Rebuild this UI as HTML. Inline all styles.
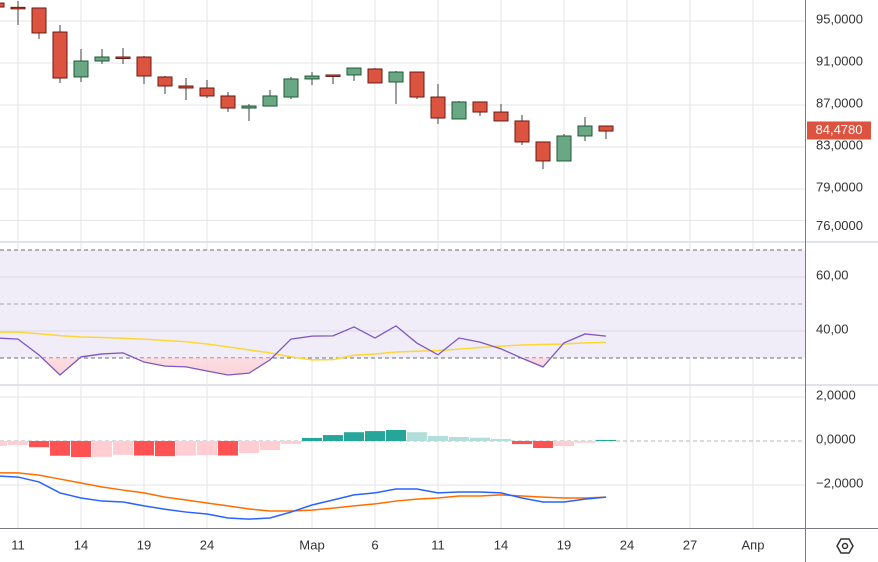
<!DOCTYPE html>
<html><head><meta charset="utf-8"><style>
html,body{margin:0;padding:0;background:#fff;}
svg{display:block;font-family:"Liberation Sans",sans-serif;}
</style></head><body>
<svg id="chart" width="878" height="562" viewBox="0 0 878 562">
<g id="grid"></g>
<rect x="0" y="250" width="805" height="108" fill="#f0ecf8"/>
<g id="rsigrid"></g>
<g id="candles"></g>
<g id="rsi"></g>
<g id="macd"></g>
<g id="axes"></g>
</svg>
<script>
const NS="http://www.w3.org/2000/svg";
// data (index -1 .. 28)
const openP =[96.71,96.3,96.24,93.95,89.67,91.19,91.57,91.57,89.67,88.81,88.62,87.86,86.71,86.90,87.76,89.48,89.86,89.86,90.43,89.19,90.14,87.76,85.67,87.29,86.33,85.48,83.48,81.67,84.05,85.0];
const highP =[96.9,96.9,96.24,94.62,92.33,92.33,92.43,91.67,89.76,89.57,89.38,88.24,87.10,88.43,89.67,90.14,89.86,90.52,90.52,90.24,90.14,89.0,87.38,87.29,87.10,86.05,83.48,84.24,85.86,85.0];
const lowP  =[96.2,94.62,93.29,89.10,89.19,90.90,90.90,89.0,88.05,87.48,87.67,86.33,85.48,86.90,87.57,88.90,89.0,89.29,89.10,87.10,87.57,85.19,85.67,85.95,85.48,83.19,80.90,81.67,83.57,83.76];
const closeP=[96.33,96.2,93.86,89.57,91.19,91.57,91.50,89.76,88.81,88.62,87.86,86.71,86.90,87.86,89.48,89.76,89.80,90.52,89.10,90.14,87.76,85.76,87.29,86.33,85.48,83.48,81.67,84.05,85.0,84.52];
const rsiVals=[37.4,37.0,31.1,23.7,30.4,31.5,31.9,28.5,27.0,26.7,25.2,23.7,24.4,29.3,37.0,38.1,38.2,41.5,37.4,41.9,35.5,31.2,37.4,35.9,33.4,29.9,26.7,35.6,38.9,38.1];
const rsiMA=[39.6,39.6,39.0,38.3,37.8,37.6,37.3,37.0,36.5,36.0,35.2,34.1,33.0,31.9,30.4,29.3,29.4,31.0,31.5,32.2,32.5,32.8,33.3,33.9,34.4,34.8,35.0,35.2,35.6,35.8];
const histVals=[-0.22,-0.18,-0.28,-0.67,-0.73,-0.72,-0.63,-0.66,-0.69,-0.66,-0.64,-0.66,-0.55,-0.41,-0.13,0.14,0.27,0.40,0.45,0.50,0.40,0.23,0.18,0.15,0.09,-0.14,-0.32,-0.23,-0.08,0.05];
const macdVals=[-1.59,-1.64,-1.86,-2.36,-2.59,-2.73,-2.77,-2.95,-3.1,-3.23,-3.32,-3.5,-3.55,-3.5,-3.23,-2.91,-2.68,-2.45,-2.36,-2.18,-2.18,-2.36,-2.32,-2.32,-2.36,-2.59,-2.77,-2.77,-2.64,-2.55];
const signalVals=[-1.45,-1.45,-1.55,-1.73,-1.91,-2.09,-2.23,-2.36,-2.55,-2.68,-2.82,-2.95,-3.09,-3.18,-3.18,-3.14,-3.05,-2.95,-2.86,-2.73,-2.64,-2.59,-2.5,-2.5,-2.45,-2.5,-2.55,-2.59,-2.59,-2.55];
const priceTicks=[95,91,87,83,79,76];
const priceTickLabels=["95,0000","91,0000","87,0000","83,0000","79,0000","76,0000"];
const rsiTicks=[60,40];
const rsiTickLabels=["60,00","40,00"];
const macdTicks=[2,0,-2];
const macdTickLabels=["2,0000","0,0000","\u22122,0000"];
const timeIdx=[1,4,7,10,15,18,21,24,27,30,33,36];
const timeLabels=["11","14","19","24","Мар","6","11","14","19","24","27","Апр"];
const lastPrice=84.478, lastPriceLabel="84,4780";

const xS=i=>18+21*(i-1); // array index 0 => candle -1
const yP=p=>21+(95-p)*10.5;
const yR=v=>250+(70-v)*2.7;
const yM=v=>441-v*22;
function el(t,a,p){const e=document.createElementNS(NS,t);for(const k in a)e.setAttribute(k,a[k]);(p||document.getElementById('chart')).appendChild(e);return e;}
const G=id=>document.getElementById(id);

// grid
const grid=G('grid');
timeIdx.forEach(ti=>{const l=el('line',{x1:xS(ti),x2:xS(ti),y1:0,y2:528,stroke:'#e6e6ea','stroke-width':1},grid);

});
priceTicks.forEach(p=>{const l=el('line',{x1:0,x2:805,y1:yP(p),y2:yP(p),stroke:'#e6e6ea'},grid);

});
macdTicks.forEach(v=>{if(v===0)return;const l=el('line',{x1:0,x2:805,y1:yM(v),y2:yM(v),stroke:'#e6e6ea'},grid);

});
const rg=G('rsigrid');
rsiTicks.forEach(v=>{const l=el('line',{x1:0,x2:805,y1:yR(v),y2:yR(v),stroke:'#dcd8e6'},rg);

});
[70,50,30].forEach(v=>{const l=el('line',{x1:0,x2:805,y1:yR(v),y2:yR(v),stroke:v===50?'#a9a9b0':'#6b6e78','stroke-dasharray':'4 3'},rg);

});

// candles
const cg=G('candles');
openP.forEach((o,i)=>{const c=closeP[i],x=xS(i),up=c>=o;
 const w=el('line',{x1:x,x2:x,y1:yP(highP[i]),y2:yP(lowP[i]),stroke:'#6b6b6b','stroke-width':1.3},cg);
 
 
 const t=yP(Math.max(o,c)),b=yP(Math.min(o,c));
 const r=el('rect',{x:x-7,y:t,width:14,height:Math.max(1.5,b-t),fill:up?'#6aa784':'#dc5340',stroke:up?'#1e5a36':'#6b1a12','stroke-width':1},cg);
 
 
});

// RSI
const rp=G('rsi');
const defs=el('defs',{},rp);
const cp=el('clipPath',{id:'below30'},defs);el('rect',{x:0,y:yR(30),width:805,height:40},cp);
const grd2=el('linearGradient',{id:'pinkg2',x1:0,y1:1,x2:0,y2:0},defs);
el('stop',{offset:'0','stop-color':'#f8c0ca'},grd2);el('stop',{offset:'1','stop-color':'#fff0f2'},grd2);
let rpts=rsiVals.map((v,i)=>xS(i)+','+yR(v)).join(' ');
const fill=el('polygon',{points:xS(0)+','+yR(30)+' '+rpts+' '+xS(rsiVals.length-1)+','+yR(30),fill:'url(#pinkg2)','clip-path':'url(#below30)',opacity:0.7},rp);


const ma=el('polyline',{points:rsiMA.map((v,i)=>xS(i)+','+yR(v)).join(' '),fill:'none',stroke:'#fdd835','stroke-width':1.5},rp);


const rl=el('polyline',{points:rpts,fill:'none',stroke:'#7e57c2','stroke-width':1.3},rp);



// MACD
const mp=G('macd');
const z=el('line',{x1:0,x2:805,y1:yM(0),y2:yM(0),stroke:'#b2b5be','stroke-dasharray':'4 3'},mp);


histVals.forEach((v,i)=>{const prev=i>0?histVals[i-1]:v;let col;
 if(v>=0)col=v>=prev?'#26a69a':'#b2dfdb';else col=v<prev?'#ff5252':'#ffcdd2';
 const y0=yM(0),y1=yM(v);
 const b=el('rect',{x:xS(i)-10,y:Math.min(y0,y1),width:20,height:Math.abs(y1-y0),fill:col},mp);
 
 
});
const sl=el('polyline',{points:signalVals.map((v,i)=>xS(i)+','+yM(v)).join(' '),fill:'none',stroke:'#ff6d00','stroke-width':1.5},mp);


const ml=el('polyline',{points:macdVals.map((v,i)=>xS(i)+','+yM(v)).join(' '),fill:'none',stroke:'#2962ff','stroke-width':1.5},mp);



// axes
const ax=G('axes');
el('rect',{x:806,y:0,width:72,height:562,fill:'#fff'},ax);
el('rect',{x:0,y:529,width:806,height:33,fill:'#fff'},ax);
const s1=el('rect',{x:0,y:241,width:878,height:2,fill:'#e0e3eb'},ax);


const s2=el('rect',{x:0,y:384,width:878,height:2,fill:'#e0e3eb'},ax);


el('line',{x1:805.5,x2:805.5,y1:0,y2:562,stroke:'#787b86'},ax);
el('line',{x1:0,x2:878,y1:528.5,y2:528.5,stroke:'#787b86'},ax);
function txt(s,x,y,name,anchor){const t=el('text',{x:x,y:y,'font-size':13,fill:'#333','text-anchor':anchor||'start','dominant-baseline':'middle'},ax);t.textContent=s;
 
 return t;}
priceTicks.forEach((p,i)=>txt(priceTickLabels[i],816,yP(p)+(p===76?6:-1),'price-tick-label'));
rsiTicks.forEach((v,i)=>txt(rsiTickLabels[i],816,yR(v)-1,'rsi-tick-label'));
macdTicks.forEach((v,i)=>txt(macdTickLabels[i],816,yM(v)-1,'macd-tick-label'));
timeIdx.forEach((ti,i)=>txt(timeLabels[i],xS(ti),546,'time-tick-label','middle'));
const by=yP(lastPrice)-1;
const pb=el('rect',{x:807,y:by-9,width:64,height:18,fill:'#dc5340'},ax);


const pt=el('text',{x:839,y:by,'font-size':13,fill:'#fff','text-anchor':'middle','dominant-baseline':'middle'},ax);pt.textContent=lastPriceLabel;


const gear=el('g',{transform:'translate(845,546)'},ax);


el('polygon',{points:'-8,0 -4,-7 4,-7 8,0 4,7 -4,7',fill:'none',stroke:'#333','stroke-width':1.5},gear);
el('circle',{cx:0,cy:0,r:2.5,fill:'none',stroke:'#333','stroke-width':1.5},gear);
</script>
</body></html>
